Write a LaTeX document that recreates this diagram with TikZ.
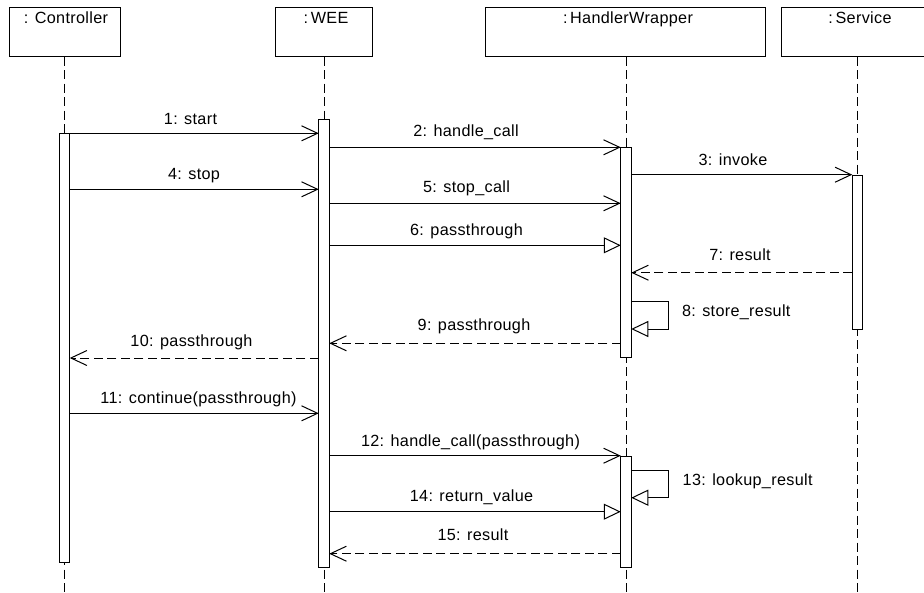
\documentclass[tikz,border=0pt]{standalone}
\usepackage{fontspec}
\setmainfont{Liberation Sans}[LetterSpace=2]
\usetikzlibrary{arrows.meta}
\begin{document}
\begin{tikzpicture}[x=1pt,y=-1pt,line width=1pt,
  every node/.style={font=\fontsize{16.2}{19}\selectfont,inner sep=0pt,outer sep=0pt},
  hdr/.style={draw,rectangle,anchor=north west,minimum height=49pt},
  htxt/.style={anchor=base},
  bar/.style={draw,fill=white,rectangle,minimum width=10.5pt,anchor=north},
  life/.style={dash pattern=on 9pt off 4.5pt},
  call/.style={-{Straight Barb[length=16pt,width=15pt]}},
  sig/.style={-{Triangle[open,length=17pt,width=16pt]}},
  ret/.style={dash pattern=on 9pt off 4.5pt,-{Straight Barb[length=16pt,width=15pt]}},
  lbl/.style={anchor=base},
  lblw/.style={anchor=base west}]
\useasboundingbox (0,0) rectangle (924,592);
% headers
\node[hdr,minimum width=111pt] (ctrl) at (9,7.5) {};
\node[htxt] (ctrlT) at (66,23) {: Controller};
\node[hdr,minimum width=96.5pt] (wee) at (275.5,7.5) {};
\node[htxt] (weeT) at (326,23) {:\,WEE};
\node[hdr,minimum width=280pt] (hw) at (485,7.5) {};
\node[htxt] (hwT) at (628,23) {:\,HandlerWrapper};
\node[minimum width=143pt,minimum height=49pt,anchor=north west] (svc) at (781,7.5) {};
\draw (svc.north east) -- (svc.north west) -- (svc.south west) -- (svc.south east);
\node[htxt] (svcT) at (860,23) {:\,Service};
% lifelines
\coordinate (cTop) at (64.5,56.5);
\coordinate (wTop) at (324,56.5);
\coordinate (hTop) at (626,56.5);
\coordinate (sTop) at (857.5,56.5);
\foreach \t in {cTop,wTop,hTop,sTop}{\draw[life] (\t) -- (\t |- 0,592);}
% activation bars
\node[bar,minimum height=429pt] (cA) at (64.5,133.3) {};
\node[bar,minimum height=448pt] (wA) at (324,119.5) {};
\node[bar,minimum height=210.5pt] (hA1) at (626,147.3) {};
\node[bar,minimum height=111.5pt] (hA2) at (626,456) {};
\node[bar,minimum height=154pt] (sA) at (857.5,175) {};
% message levels
\coordinate (m1) at (0,133.3);
\coordinate (m2) at (0,147.3);
\coordinate (m3) at (0,174.7);
\coordinate (m4) at (0,189.3);
\coordinate (m5) at (0,203.3);
\coordinate (m6) at (0,245.3);
\coordinate (m7) at (0,272.7);
\coordinate (m8a) at (0,301);
\coordinate (m8b) at (0,329);
\coordinate (m9) at (0,343.3);
\coordinate (m10) at (0,358);
\coordinate (m11) at (0,413.3);
\coordinate (m12) at (0,455.7);
\coordinate (m13a) at (0,470);
\coordinate (m13b) at (0,497.7);
\coordinate (m14) at (0,511.7);
\coordinate (m15) at (0,553.7);
\coordinate (s8a) at (668,301);
\coordinate (s8b) at (668,329);
\coordinate (s13a) at (668,470);
\coordinate (s13b) at (668,497.7);
% messages
\draw[call] (cA.east |- m1) -- (wA.west |- m1);
\node[lbl] (l1) at (190.5,124) {1: start};
\draw[call] (wA.east |- m2) -- (hA1.west |- m2);
\node[lbl] (l2) at (466,136.5) {2: handle\_call};
\draw[call] (hA1.east |- m3) -- (sA.west |- m3);
\node[lbl] (l3) at (733,165) {3: invoke};
\draw[call] (cA.east |- m4) -- (wA.west |- m4);
\node[lbl] (l4) at (194,179.3) {4: stop};
\draw[call] (wA.east |- m5) -- (hA1.west |- m5);
\node[lbl] (l5) at (466.5,192.8) {5: stop\_call};
\draw[sig] (wA.east |- m6) -- (hA1.west |- m6);
\node[lbl] (l6) at (466.5,235) {6: passthrough};
\draw[ret] (sA.west |- m7) -- (hA1.east |- m7);
\node[lbl] (l7) at (740,260) {7: result};
\draw[sig] (hA1.east |- m8a) -- (s8a) -- (s8b) -- (hA1.east |- m8b);
\node[lblw] (l8) at (682,316.5) {8: store\_result};
\draw[ret] (hA1.west |- m9) -- (wA.east |- m9);
\node[lbl] (l9) at (474,330) {9: passthrough};
\draw[ret] (wA.west |- m10) -- (cA.east |- m10);
\node[lbl] (l10) at (191.5,346.5) {10: passthrough};
\draw[call] (cA.east |- m11) -- (wA.west |- m11);
\node[lbl] (l11) at (198.5,403.3) {11: continue(passthrough)};
\draw[call] (wA.east |- m12) -- (hA2.west |- m12);
\node[lbl] (l12) at (470.5,446) {12: handle\_call(passthrough)};
\draw[sig] (hA2.east |- m13a) -- (s13a) -- (s13b) -- (hA2.east |- m13b);
\node[lblw] (l13) at (682.7,485) {13: lookup\_result};
\draw[sig] (wA.east |- m14) -- (hA2.west |- m14);
\node[lbl] (l14) at (471.5,501) {14: return\_value};
\draw[ret] (hA2.west |- m15) -- (wA.east |- m15);
\node[lbl] (l15) at (473,540.7) {15: result};
\end{tikzpicture}
\end{document}
